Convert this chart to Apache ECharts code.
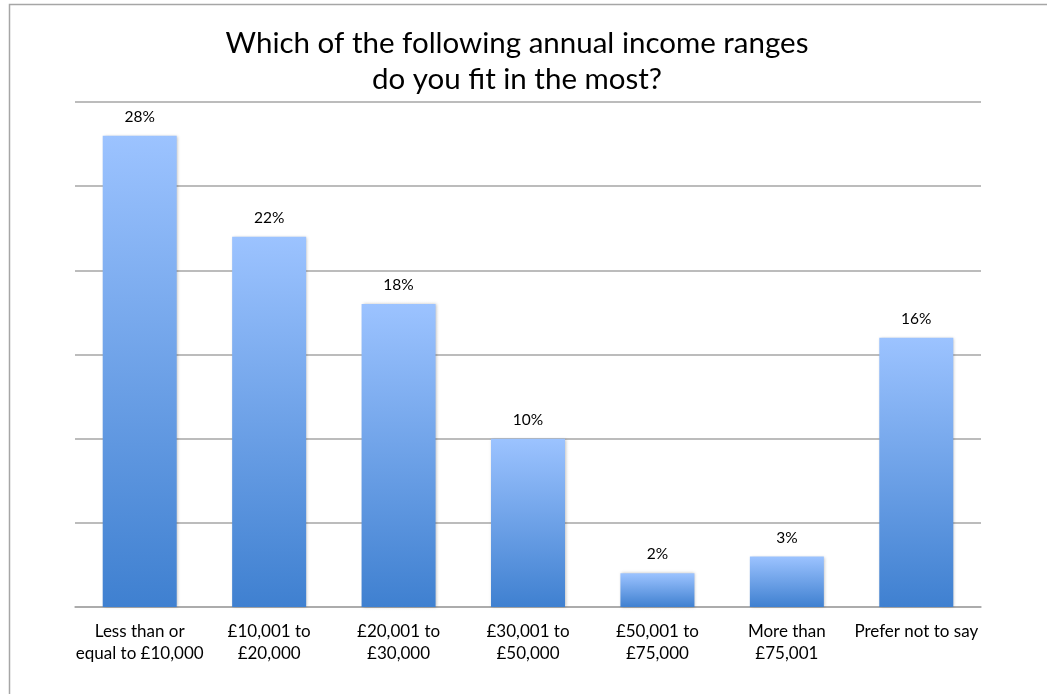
<!DOCTYPE html>
<html>
<head>
<meta charset="utf-8">
<script src="https://cdn.jsdelivr.net/npm/echarts@6/dist/echarts.min.js"></script>
<style>
  html, body { margin: 0; padding: 0; background: #fff; }
  #chart { width: 1047px; height: 694px; }
</style>
</head>
<body>
<div id="chart"></div>
<script>
var categories = [
    'Less than or\nequal to £10,000',
    '£10,001 to\n£20,000',
    '£20,001 to\n£30,000',
    '£30,001 to\n£50,000',
    '£50,001 to\n£75,000',
    'More than\n£75,001',
    'Prefer not to say'
];
var percents = [28, 22, 18, 10, 2, 3, 16];

var myChart = echarts.init(document.getElementById('chart'), null, {renderer: 'canvas'});

var option = {
    backgroundColor: '#fff',
    animation: false,
    title: {
        text: 'Which of the following annual income ranges\ndo you fit in the most?',
        left: 512,
        top: 20,
        textAlign: 'center',
        textStyle: {
            fontFamily: 'Lato',
            fontWeight: 'normal',
            fontSize: 29.5,
            lineHeight: 36,
            color: '#000'
        }
    },
    graphic: [{
        type: 'rect',
        shape: {x: 9.5, y: 4.5, width: 1100, height: 800},
        style: {fill: 'none', stroke: '#a6a6a6', lineWidth: 1.5},
        silent: true
    }],
    grid: {
        left: 75,
        right: 66,
        top: 102,
        bottom: 87
    },
    xAxis: {
        type: 'category',
        data: categories,
        axisTick: {show: false},
        axisLine: {lineStyle: {color: '#a6a6a6', width: 1.5}},
        axisLabel: {
            interval: 0,
            margin: 14,
            fontFamily: 'Lato',
            fontSize: 17,
            lineHeight: 22,
            color: '#000'
        }
    },
    yAxis: {
        type: 'value',
        min: 0,
        max: 30,
        interval: 5,
        axisLabel: {show: false},
        axisLine: {show: false},
        axisTick: {show: false},
        splitLine: {lineStyle: {color: '#a6a6a6', width: 1.5}}
    },
    series: [{
        type: 'bar',
        data: percents,
        barWidth: 74,
        itemStyle: {
            color: new echarts.graphic.LinearGradient(0, 0, 0, 1, [
                {offset: 0, color: '#9cc3ff'},
                {offset: 1, color: '#3f80d0'}
            ]),
            shadowColor: 'rgba(0,0,0,0.25)',
            shadowBlur: 3,
            shadowOffsetX: 1,
            shadowOffsetY: 0
        },
        label: {
            show: true,
            position: 'top',
            distance: 11,
            formatter: '{c}%',
            fontFamily: 'Lato',
            fontSize: 15.5,
            color: '#000'
        }
    }]
};
myChart.setOption(option);
</script>
</body>
</html>
